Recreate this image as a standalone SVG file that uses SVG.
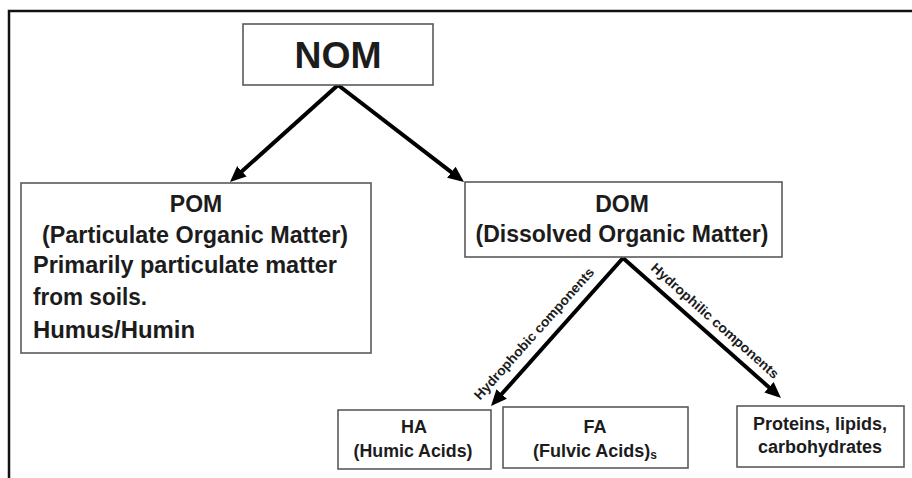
<svg xmlns="http://www.w3.org/2000/svg" width="912" height="478" viewBox="0 0 912 478">
  <style>
    .box { fill: #ffffff; stroke: #5a5a5a; stroke-width: 1.6; }
    .t { font-family: "Liberation Sans", Arial, sans-serif; font-weight: bold; fill: #1c1c1c; }
    .arrow { stroke: #000000; stroke-width: 4; fill: none; marker-end: url(#ah); }
    .lbl { font-family: "Liberation Sans", Arial, sans-serif; font-weight: bold; font-size: 13.5px; fill: #1c1c1c; }
  </style>
  <defs>
    <marker id="ah" markerUnits="userSpaceOnUse" markerWidth="17" markerHeight="14" refX="4" refY="7" orient="auto">
      <path d="M0,0 L16,7 L0,14 z" fill="#000000"/>
    </marker>
  </defs>
  <rect x="0" y="0" width="912" height="478" fill="#ffffff"/>
  <!-- outer frame -->
  <path d="M9,478 L9,11 L912,11" fill="none" stroke="#111111" stroke-width="2.5"/>

  <g id="connectors">
    <line class="arrow" x1="338" y1="85" x2="238.9" y2="174"/>
    <line class="arrow" x1="338" y1="85" x2="454.5" y2="174.7"/>
    <line class="arrow" x1="623" y1="258" x2="499" y2="397"/>
    <line class="arrow" x1="623" y1="258" x2="772" y2="390"/>
    <text class="lbl" transform="translate(557,331.5) rotate(-48.1)" x="-17" y="-11" text-anchor="middle" textLength="172" lengthAdjust="spacingAndGlyphs">Hydrophobic components</text>
    <text class="lbl" transform="translate(701.5,327) rotate(41.7)" x="6" y="-9" text-anchor="middle" textLength="166" lengthAdjust="spacingAndGlyphs">Hydrophilic components</text>
  </g>

  <g id="nom">
    <rect class="box" x="243" y="24" width="190" height="61"/>
    <text class="t" x="338" y="68" font-size="36" text-anchor="middle" textLength="87" lengthAdjust="spacingAndGlyphs">NOM</text>
  </g>

  <g id="pom">
    <rect class="box" x="21" y="183" width="350" height="170"/>
    <text class="t" x="196" y="212" font-size="23" text-anchor="middle">POM</text>
    <text class="t" x="195" y="243" font-size="23" text-anchor="middle" textLength="306" lengthAdjust="spacingAndGlyphs">(Particulate Organic Matter)</text>
    <text class="t" x="33" y="273" font-size="23" textLength="304" lengthAdjust="spacingAndGlyphs">Primarily particulate matter</text>
    <text class="t" x="33" y="305" font-size="23" textLength="114" lengthAdjust="spacingAndGlyphs">from soils.</text>
    <text class="t" x="33" y="338" font-size="23" textLength="162" lengthAdjust="spacingAndGlyphs">Humus/Humin</text>
  </g>

  <g id="dom">
    <rect class="box" x="465" y="182" width="317" height="75"/>
    <text class="t" x="622" y="212" font-size="23" text-anchor="middle">DOM</text>
    <text class="t" x="622" y="242" font-size="23" text-anchor="middle" textLength="293" lengthAdjust="spacingAndGlyphs">(Dissolved Organic Matter)</text>
  </g>

  <g id="ha">
    <rect class="box" x="338" y="410" width="153" height="59"/>
    <text class="t" x="414" y="433" font-size="18" text-anchor="middle">HA</text>
    <text class="t" x="413" y="457" font-size="18" text-anchor="middle" textLength="119" lengthAdjust="spacingAndGlyphs">(Humic Acids)</text>
  </g>

  <g id="fa">
    <rect class="box" x="503" y="407" width="185" height="61"/>
    <text class="t" x="595" y="433" font-size="18" text-anchor="middle">FA</text>
    <text class="t" x="533" y="457" font-size="18">(Fulvic Acids)<tspan font-size="12" dy="2">s</tspan></text>
  </g>

  <g id="proteins">
    <rect class="box" x="737" y="406" width="167" height="61"/>
    <text class="t" x="820" y="430" font-size="18" text-anchor="middle">Proteins, lipids,</text>
    <text class="t" x="820" y="453" font-size="18" text-anchor="middle">carbohydrates</text>
  </g>
</svg>
